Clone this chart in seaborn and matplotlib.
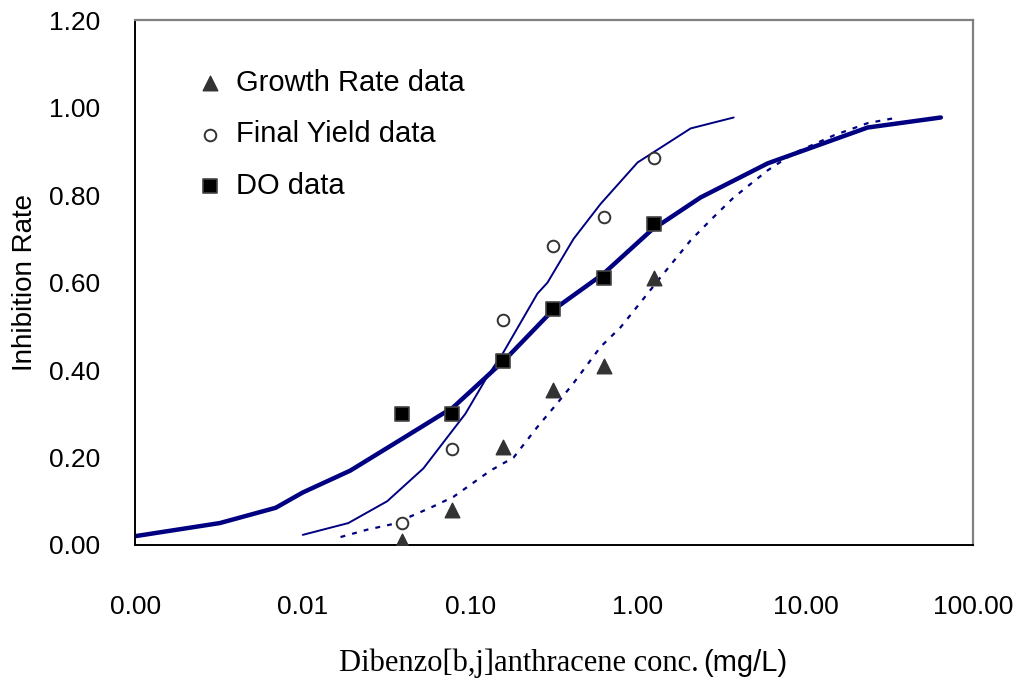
import numpy as np
import pandas as pd
import seaborn as sns
import matplotlib.pyplot as plt
from matplotlib.ticker import NullLocator

sns.set_theme(style="white")
plt.rcParams['font.family'] = ['Liberation Sans', 'DejaVu Sans']
plt.rcParams['text.color'] = 'black'
plt.rcParams['axes.labelcolor'] = 'black'

# measured points (conc. mg/L)
conc = [0.039, 0.078, 0.156, 0.3125, 0.625, 1.25]
growth_rate = [0.01, 0.08, 0.225, 0.355, 0.41, 0.61]
final_yield = [0.05, 0.22, 0.515, 0.685, 0.75, 0.885]
do_data = [0.30, 0.30, 0.42, 0.54, 0.61, 0.735]

# fitted curves
do_fit_x = [0.001, 0.0032, 0.0069, 0.01, 0.0192, 0.04, 0.079, 0.16, 0.31, 0.62,
            1.2, 2.36, 5.93, 23.4, 64.0]
do_fit_y = [0.02, 0.05, 0.085, 0.12, 0.17, 0.245, 0.315, 0.423, 0.537, 0.62,
            0.72, 0.795, 0.873, 0.955, 0.978]
fy_fit_x = [0.01, 0.0187, 0.0319, 0.0524, 0.0933, 0.126, 0.157, 0.251, 0.288,
            0.412, 0.597, 0.993, 2.06, 3.72]
fy_fit_y = [0.023, 0.05, 0.10, 0.175, 0.30, 0.385, 0.44, 0.575, 0.60,
            0.70, 0.78, 0.875, 0.953, 0.978]
gr_fit_x = [0.0168, 0.0243, 0.0347, 0.0577, 0.0792, 0.1316, 0.181, 0.251, 0.331,
            0.412, 0.597, 0.787, 1.14, 1.36, 2.06, 2.82, 3.72, 5.93, 8.48,
            14.7, 23.4, 35.4]
gr_fit_y = [0.018, 0.035, 0.048, 0.085, 0.11, 0.17, 0.20, 0.27, 0.325,
            0.37, 0.453, 0.498, 0.575, 0.612, 0.697, 0.75, 0.795, 0.857, 0.896,
            0.937, 0.965, 0.978]

xticks = [0.001, 0.01, 0.1, 1, 10, 100]
yticks = [0.0, 0.2, 0.4, 0.6, 0.8, 1.0, 1.2]

fig = plt.figure(figsize=(10.16, 6.82), dpi=100)
ax = fig.add_axes([0.133, 0.201, 0.825, 0.769])

navy = "#000080"
sns.lineplot(x=do_fit_x, y=do_fit_y, ax=ax, color=navy, lw=3.2, sort=False)
sns.lineplot(x=fy_fit_x, y=fy_fit_y, ax=ax, color=navy, lw=1.4, sort=False)
sns.lineplot(x=gr_fit_x, y=gr_fit_y, ax=ax, color=navy, lw=1.6, sort=False,
             linestyle=(0, (2.2, 3.2)))

h1 = ax.scatter(conc, growth_rate, marker="^", s=110, color="#333333", zorder=5,
                label="Growth Rate data")
h2 = ax.scatter(conc, final_yield, marker="o", s=70, facecolor="white",
                edgecolor="#333333", linewidths=1.4, zorder=5, label="Final Yield data")
h3 = ax.scatter(conc, do_data, marker="s", s=90, color="black",
                edgecolor="#444444", linewidths=1.2, zorder=5, label="DO data")

ax.set_xscale("log")
ax.set_xlim(0.001, 100)
ax.set_ylim(0, 1.2)
ax.set_xticks(xticks)
ax.set_xticklabels([f"{v:.2f}" for v in xticks])
ax.xaxis.set_minor_locator(NullLocator())
ax.set_yticks(yticks)
ax.set_yticklabels([f"{v:.2f}" for v in yticks])
ax.tick_params(axis="both", direction="in", length=10, width=1.2, labelsize=19,
               colors="black")
ax.tick_params(axis="x", pad=36)
ax.tick_params(axis="y", pad=25)
ax.set_xlabel("")
ax.set_ylabel("Inhibition Rate", fontsize=20, labelpad=8)

for side in ["left", "bottom"]:
    ax.spines[side].set_color("black")
    ax.spines[side].set_linewidth(1.4)
for side in ["top", "right"]:
    ax.spines[side].set_color("#808080")
    ax.spines[side].set_linewidth(1.6)

leg = ax.legend(handles=[h1, h2, h3], loc="upper left", bbox_to_anchor=(0.058, 0.93),
                frameon=False, fontsize=21, handlelength=1.0, handletextpad=0.4,
                labelspacing=0.8, borderaxespad=0)

fig.text(0.688, 0.016, "Dibenzo[b,j]anthracene conc.", family="Liberation Serif",
         fontsize=22, ha="right", va="baseline")
fig.text(0.692, 0.016, "(mg/L)", fontsize=21, ha="left", va="baseline")

fig.savefig("out.png", dpi=100)
